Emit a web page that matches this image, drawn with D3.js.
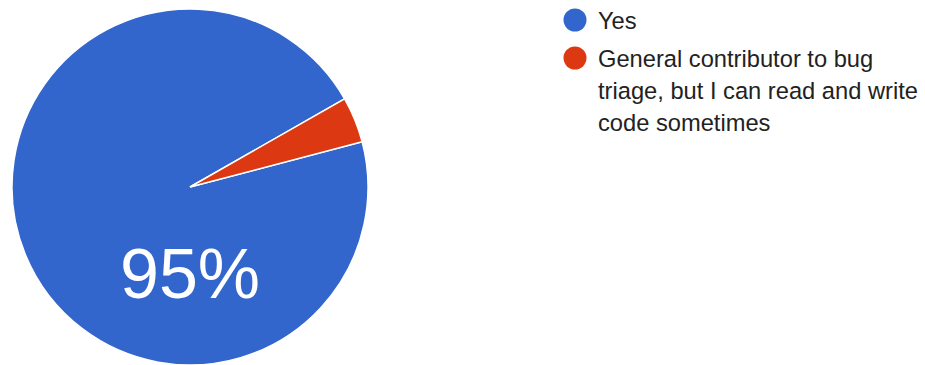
<!DOCTYPE html>
<html>
<head>
<meta charset="utf-8">
<script src="https://cdn.jsdelivr.net/npm/d3@7"></script>
<style>
  body { margin: 0; background: #fff; }
  svg { display: block; font-family: "Liberation Sans", Arial, sans-serif; }
</style>
</head>
<body>
<div id="chart"></div>
<script>
// données
const categories = ["Yes", "General contributor to bug triage, but I can read and write code sometimes"];
const values = [23, 1];
const colors = ["#3366cc", "#dc3912"];
// lignes de légende (retour à la ligne comme dans l'original)
const legendLines = [["Yes"], ["General contributor to bug", "triage, but I can read and write", "code sometimes"]];

const width = 925, height = 365;
const cx = 190, cy = 187, radius = 178;

const svg = d3.select("#chart").append("svg")
    .attr("width", width).attr("height", height);

const start = 75.3 * Math.PI / 180;
const pie = d3.pie().sort(null).value(d => d)
    .startAngle(start).endAngle(start + 2 * Math.PI);
const arc = d3.arc().innerRadius(0).outerRadius(radius);

const g = svg.append("g").attr("transform", `translate(${cx},${cy})`);

g.selectAll("path")
    .data(pie(values))
    .enter().append("path")
    .attr("d", arc)
    .attr("fill", (d, i) => colors[i])
    .attr("stroke", "#fff")
    .attr("stroke-width", 1.5);

// étiquette du pourcentage (plus grande part)
const total = d3.sum(values);
const pct = Math.floor(values[0] / total * 100);
g.append("text")
    .attr("x", 0).attr("y", radius * 0.624)
    .attr("text-anchor", "middle")
    .style("font-size", "70px")
    .style("fill", "#fff")
    .text(pct + "%");

// légende
const lineH = 32;
let y = 20;
categories.forEach((c, i) => {
    svg.append("circle")
        .attr("cx", 575).attr("cy", y).attr("r", 11.5)
        .attr("fill", colors[i]);
    const t = svg.append("text")
        .attr("x", 598).attr("y", y + 8.5)
        .style("font-size", "23.7px")
        .style("fill", "#222");
    legendLines[i].forEach((l, j) => {
        t.append("tspan").attr("x", 598).attr("dy", j === 0 ? 0 : lineH).text(l);
    });
    y += lineH * legendLines[i].length + 6;
});
</script>
</body>
</html>
